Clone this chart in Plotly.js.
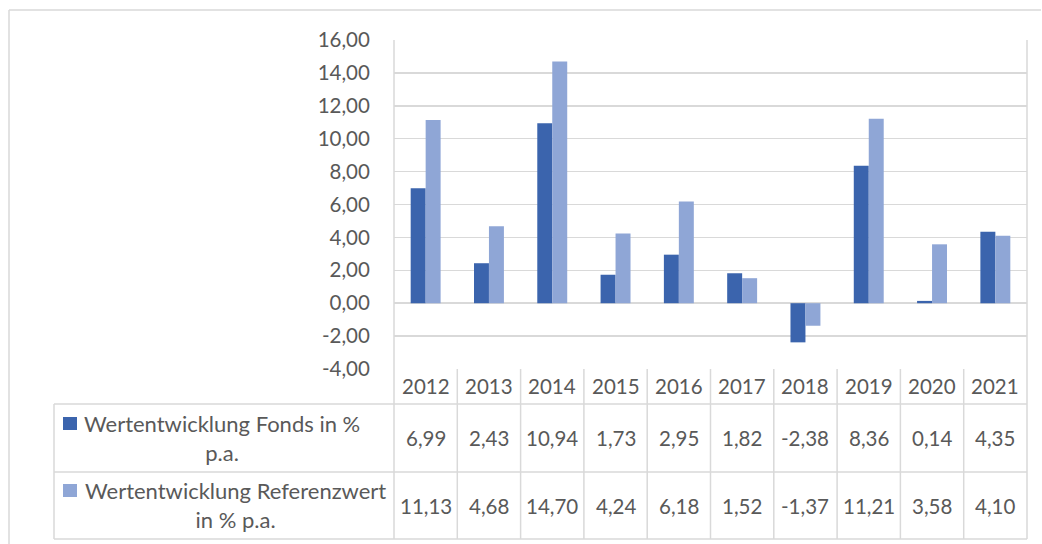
<!DOCTYPE html>
<html>
<head>
<meta charset="utf-8">
<script src="https://cdn.plot.ly/plotly-3.0.1.min.js"></script>
<style>
html,body{margin:0;padding:0;background:#fff;}
#chart{width:1042px;height:544px;}
</style>
</head>
<body>
<div id="chart"></div>
<script>
// ---- data ----
const years = ["2012","2013","2014","2015","2016","2017","2018","2019","2020","2021"];
const fonds = [6.99, 2.43, 10.94, 1.73, 2.95, 1.82, -2.38, 8.36, 0.14, 4.35];
const referenz = [11.13, 4.68, 14.70, 4.24, 6.18, 1.52, -1.37, 11.21, 3.58, 4.10];
const seriesNames = ["Wertentwicklung Fonds in %<br>p.a.", "Wertentwicklung Referenzwert<br>in % p.a."];
const yTickVals = [-4, -2, 0, 2, 4, 6, 8, 10, 12, 14, 16];
const yTickText = ["-4,00","-2,00","0,00","2,00","4,00","6,00","8,00","10,00","12,00","14,00","16,00"];

// ---- styling / geometry ----
const W = 1042, H = 544;
const PL = 394, PR = 1027, PT = 40, PB = 369;
const colDark = "#3B64AD", colLight = "#8FA6D6";
const grid = "#D9D9D9", txt = "#595959";
const FONT = "Lato, 'Open Sans', sans-serif";
const FS = 20.5;
const FS_LEG = 22;

const px = p => (p - PL) / (PR - PL);
const py = p => (PB - p) / (PB - PT);
const fmt = v => v.toFixed(2).replace(".", ",");

const traces = [
  {type: "bar", x: years, y: fonds, name: seriesNames[0], marker: {color: colDark}},
  {type: "bar", x: years, y: referenz, name: seriesNames[1], marker: {color: colLight}}
];

const shapes = [];
const line = (x0, y0, x1, y1, xref, c, w) => shapes.push({
  type: "line", xref: xref || "paper", yref: "paper", x0, y0, x1, y1,
  line: {color: c || grid, width: w || 1.5}, layer: "below"
});

// outer chart border
line(px(9), py(10), px(1041), py(10));
line(px(9), py(10), px(9), py(560));
// plot / table verticals
line(px(PL), py(PT), px(PL), py(539));
line(px(PR), py(PT), px(PR), py(539));
line(px(54), py(404), px(54), py(539));
for (let i = 1; i < years.length; i++) {
  line(i - 0.5, py(PB), i - 0.5, py(539), "x");
}
// table horizontals
line(px(54), py(404), px(PR), py(404));
line(px(54), py(472), px(PR), py(472));
line(px(54), py(539), px(PR), py(539));

const annotations = [];
const ann = (text, xref, x, y, extra) => annotations.push(Object.assign({
  text, xref, yref: "paper", x, y, showarrow: false,
  xanchor: "center", yanchor: "middle",
  font: {family: FONT, size: FS, color: txt}
}, extra || {}));

years.forEach((yr, i) => {
  ann(yr, "x", i, py(386));
  ann(fmt(fonds[i]), "x", i, py(438));
  ann(fmt(referenz[i]), "x", i, py(506));
});

// legend keys in table
shapes.push({type: "rect", xref: "paper", yref: "paper",
  x0: px(63), x1: px(77), y0: py(417), y1: py(430),
  fillcolor: colDark, line: {width: 0}});
shapes.push({type: "rect", xref: "paper", yref: "paper",
  x0: px(63), x1: px(77), y0: py(484), y1: py(497),
  fillcolor: colLight, line: {width: 0}});
const legFont = {family: FONT, size: FS_LEG, color: txt};
ann(seriesNames[0], "paper", px(222), py(437.5), {align: "center", font: legFont});
ann(seriesNames[1], "paper", px(235), py(505), {align: "center", font: legFont});

const layout = {
  width: W, height: H,
  margin: {l: PL, r: W - PR, t: PT, b: H - PB, pad: 0},
  paper_bgcolor: "#fff", plot_bgcolor: "#fff",
  showlegend: false,
  barmode: "group",
  bargap: 0.527, bargroupgap: 0,
  font: {family: FONT, size: FS, color: txt},
  xaxis: {
    type: "category", range: [-0.5, years.length - 0.5],
    showticklabels: false, showgrid: false, zeroline: false, showline: false, ticks: ""
  },
  yaxis: {
    range: [-4, 16], tickvals: yTickVals, ticktext: yTickText,
    showgrid: true, gridcolor: grid, gridwidth: 1.5,
    zeroline: true, zerolinecolor: grid, zerolinewidth: 1.5,
    showline: false, ticks: "outside", ticklen: 19, tickcolor: "rgba(0,0,0,0)",
    tickfont: {family: FONT, size: FS, color: txt}
  },
  shapes, annotations
};

Plotly.newPlot("chart", traces, layout, {staticPlot: true, displayModeBar: false});
</script>
</body>
</html>
